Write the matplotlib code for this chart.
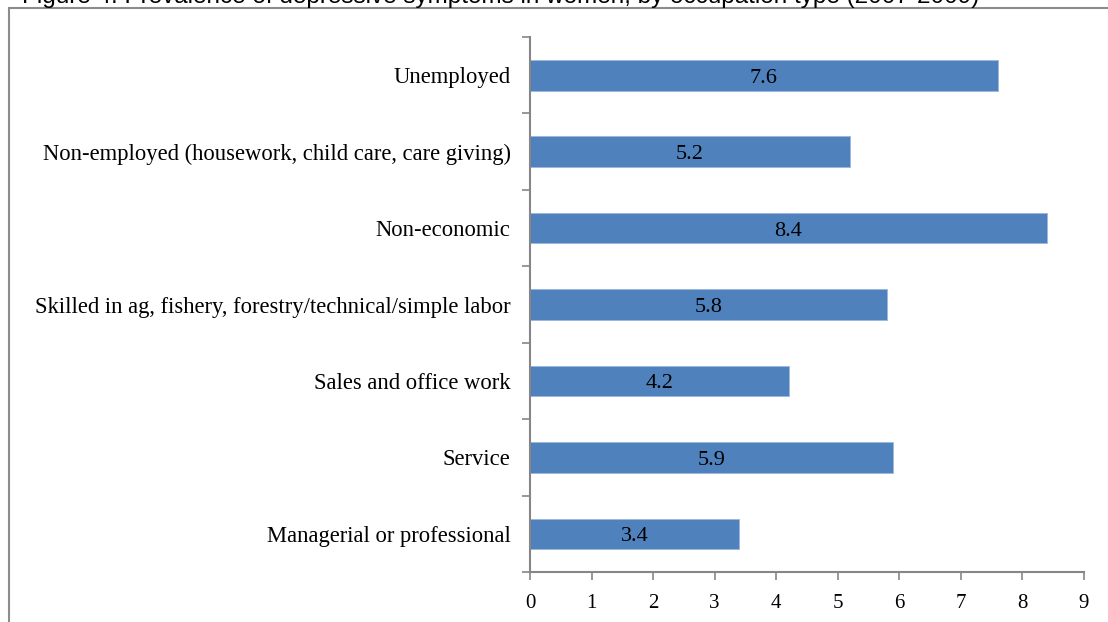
import matplotlib
matplotlib.use("Agg")
import matplotlib.pyplot as plt
from matplotlib.patches import Rectangle


categories = [
    "Managerial or professional",
    "Service",
    "Sales and office work",
    "Skilled in ag, fishery, forestry/technical/simple labor",
    "Non-economic",
    "Non-employed (housework, child care, care giving)",
    "Unemployed",
]
values = [3.4, 5.9, 4.2, 5.8, 8.4, 5.2, 7.6]
x_ticks = [0, 1, 2, 3, 4, 5, 6, 7, 8, 9]

title = "Figure 4. Prevalence of depressive symptoms in women, by occupation type (2007-2009)"

BAR_COLOR = "#4F81BD"
AXIS_COLOR = "#868686"
SERIF = ["Liberation Serif", "DejaVu Serif"]

fig = plt.figure(figsize=(11.08, 6.22), dpi=100)

# outer chart frame, runs off the right and bottom edge
frame = Rectangle((9 / 1108, -0.1), 1.2, (622 - 8) / 622 + 0.1,
                  transform=fig.transFigure, fill=False,
                  edgecolor="#8c8c8c", linewidth=1.5, zorder=0)
fig.patches.append(frame)

# caption, only its lower edge fits on the page
fig.text(22 / 1108, (622 - 3) / 622, title, fontsize=17.5,
         family=["Liberation Sans", "DejaVu Sans"], va="baseline", ha="left")

ax = fig.add_axes([530 / 1108, 50 / 622, 554 / 1108, 535 / 622])
y = list(range(len(categories)))
ax.barh(y, values, height=0.4, color=BAR_COLOR,
        edgecolor="#9bb7dc", linewidth=0.6)

for yi, v in zip(y, values):
    ax.text(v / 2, yi - 0.04, f"{v:.1f}", ha="center", va="center",
            fontsize=16, family=SERIF, color="black")

ax.set_xlim(0, 9)
ax.set_ylim(-0.5, len(categories) - 0.5)

ax.set_xticks(x_ticks)
ax.set_xticklabels([str(t) for t in x_ticks], family=SERIF, fontsize=15)
ax.set_yticks(y)
ax.set_yticklabels(categories, family=SERIF, fontsize=16.3)
ax.set_yticks([i - 0.5 for i in range(len(categories) + 1)], minor=True)

ax.tick_params(axis="y", which="major", length=0, pad=14)
ax.tick_params(axis="y", which="minor", length=6, width=1.2, color=AXIS_COLOR)
ax.tick_params(axis="x", which="major", length=6, width=1.2, color=AXIS_COLOR,
               pad=10, direction="out")

for side in ["top", "right"]:
    ax.spines[side].set_visible(False)
for side in ["left", "bottom"]:
    ax.spines[side].set_color(AXIS_COLOR)
    ax.spines[side].set_linewidth(1.5)

fig.savefig("out.png", dpi=100)
